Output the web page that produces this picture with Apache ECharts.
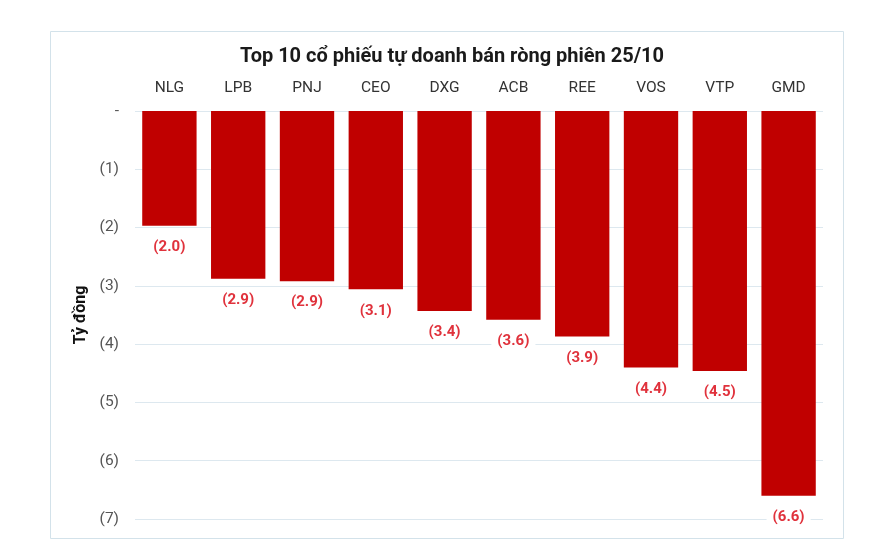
<!DOCTYPE html>
<html>
<head>
<meta charset="utf-8">
<script src="https://cdn.jsdelivr.net/npm/echarts@6/dist/echarts.min.js"></script>
<style>
html,body{margin:0;padding:0;background:#fff;}
#chart{width:885px;height:557px;}
</style>
</head>
<body>
<div id="chart"></div>
<script>
var categories = ['NLG','LPB','PNJ','CEO','DXG','ACB','REE','VOS','VTP','GMD'];
var netSell = [-1.97, -2.88, -2.92, -3.06, -3.43, -3.58, -3.87, -4.40, -4.46, -6.60];
var yTicks = [0, -1, -2, -3, -4, -5, -6, -7];
var titleText = 'Top 10 cổ phiếu tự doanh bán ròng phiên 25/10';
var yName = 'Tỷ đồng';

var chart = echarts.init(document.getElementById('chart'));
chart.setOption({
  animation: false,
  backgroundColor: '#fff',
  title: {
    text: titleText,
    left: 447, top: 42, textAlign: 'center',
    textStyle: {fontFamily: 'Roboto', fontWeight: 'bold', fontSize: 20, color: '#1a1a1a'}
  },
  graphic: [{
    type: 'rect', shape: {x: 50.5, y: 31.5, width: 793, height: 507},
    style: {fill: 'none', stroke: '#d3e2ea', lineWidth: 1}, silent: true, z: -1
  }],
  grid: {left: 135, right: 62, top: 111, bottom: 38},
  xAxis: {
    type: 'category', data: categories, position: 'top',
    axisLine: {show: false}, axisTick: {show: false},
    axisLabel: {fontFamily: 'Roboto', fontSize: 15.5, color: '#333', margin: 15}
  },
  yAxis: {
    type: 'value', min: -7, max: 0, interval: 1,
    name: yName, nameLocation: 'middle', nameGap: 44, nameRotate: 90,
    nameTextStyle: {fontFamily: 'Roboto', fontWeight: 'bold', fontSize: 16, color: '#111'},
    axisLine: {show: false}, axisTick: {show: false},
    axisLabel: {
      fontFamily: 'Roboto', fontSize: 15.5, color: '#555', margin: 16,
      formatter: function (v) { return v === 0 ? '-' : '(' + Math.abs(v) + ')'; }
    },
    splitLine: {lineStyle: {color: '#dde8ef', width: 1}}
  },
  series: [{
    type: 'bar', data: netSell, barCategoryGap: '21%',
    itemStyle: {color: '#c00000'},
    label: {
      show: true, position: 'bottom', distance: 13,
      fontFamily: 'Roboto', fontWeight: 'bold', fontSize: 15, color: '#e0323c',
      backgroundColor: '#fff', padding: [1, 6],
      formatter: function (p) { return '(' + Math.abs(p.value).toFixed(1) + ')'; }
    }
  }]
});
</script>
</body>
</html>
